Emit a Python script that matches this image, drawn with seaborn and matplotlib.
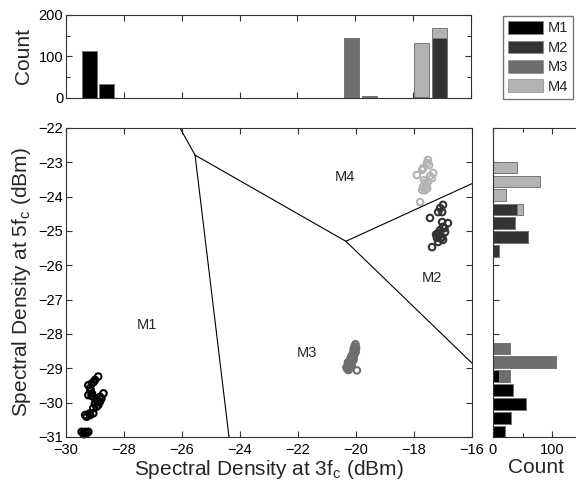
import matplotlib
matplotlib.use("Agg")
import matplotlib.pyplot as plt
import seaborn as sns
import pandas as pd
from matplotlib.patches import Patch
from matplotlib.ticker import MultipleLocator

# ==============================
# Data
# ==============================
classes = ["M1", "M2", "M3", "M4"]
colors = ["#000000", "#333333", "#6e6e6e", "#b3b3b3"]

m1_x = [-28.89, -29.00, -29.11, -29.23, -29.17, -29.11, -29.23, -29.06, -28.71, -28.83,
        -28.94, -28.83, -29.00, -28.89, -29.06, -29.17, -29.34, -29.29, -29.06, -29.46,
        -29.34, -29.40, -29.29, -29.23, -28.78, -28.95, -29.05, -29.15, -28.92, -29.20,
        -29.38, -29.12]
m1_y = [-29.24, -29.34, -29.44, -29.49, -29.58, -29.73, -29.78, -29.83, -29.73, -29.83,
        -29.92, -29.97, -30.02, -30.07, -30.16, -30.36, -30.36, -30.41, -30.31, -30.85,
        -30.85, -30.89, -30.89, -30.85, -29.88, -30.12, -29.40, -29.65, -29.95, -30.32,
        -30.92, -29.80]

m2_x = [-17.00, -17.10, -17.17, -17.03, -17.45, -17.03, -16.83, -17.00, -17.10, -16.93,
        -17.17, -17.03, -17.21, -17.00, -17.17, -17.38, -17.12, -17.08, -17.24, -16.95]
m2_y = [-24.24, -24.33, -24.45, -24.45, -24.62, -24.74, -24.77, -24.88, -24.97, -25.03,
        -25.06, -25.18, -25.20, -25.26, -25.32, -25.47, -25.12, -25.22, -25.10, -24.92]

m3_x = [-20.02, -20.05, -20.00, -20.08, -20.04, -20.10, -20.06, -20.12, -20.08, -20.15,
        -20.11, -20.18, -20.14, -20.20, -20.16, -20.24, -20.20, -20.27, -20.23, -20.30,
        -20.26, -19.97, -20.03, -20.07, -20.13, -20.09, -20.19, -20.15, -20.25, -20.21,
        -20.33, -20.01, -20.17, -20.28]
m3_y = [-28.30, -28.36, -28.40, -28.44, -28.50, -28.55, -28.60, -28.64, -28.68, -28.70,
        -28.74, -28.78, -28.82, -28.85, -28.88, -28.90, -28.94, -28.96, -29.00, -29.02,
        -29.05, -29.06, -28.46, -28.58, -28.62, -28.76, -28.72, -28.92, -28.86, -28.98,
        -28.97, -28.52, -28.66, -28.83]

m4_x = [-17.52, -17.55, -17.69, -17.72, -17.90, -17.34, -17.38, -17.52, -17.62, -17.69,
        -17.72, -17.62, -17.79, -17.45, -17.58, -17.48, -17.66, -17.55]
m4_y = [-22.93, -23.02, -23.17, -23.22, -23.37, -23.31, -23.46, -23.57, -23.60, -23.72,
        -23.81, -23.81, -24.16, -23.40, -23.68, -23.08, -23.52, -23.76]

# decision boundaries (segment end points)
bound_x = [[-26.07, -25.55], [-25.55, -24.38], [-25.55, -20.35], [-20.35, -16.0], [-20.35, -16.0]]
bound_y = [[-22.00, -22.79], [-22.79, -31.00], [-22.79, -25.30], [-25.30, -23.62], [-25.30, -28.85]]

region_names = ["M1", "M2", "M3", "M4"]
region_x = [-27.2, -17.38, -21.7, -20.38]
region_y = [-27.74, -26.37, -28.56, -23.43]

# histogram along x (top panel), 21 bins
top_centers = [-29.20, -28.59, -27.99, -27.38, -26.78, -26.17, -25.57, -24.96, -24.36, -23.75,
               -23.15, -22.54, -21.93, -21.33, -20.72, -20.12, -19.51, -18.91, -18.30, -17.70,
               -17.09]
top_m1 = [114, 33, 0, 0, 0, 0, 0, 0, 0, 0, 0, 0, 0, 0, 0, 0, 0, 0, 0, 0, 0]
top_m2 = [0, 0, 0, 0, 0, 0, 0, 0, 0, 0, 0, 0, 0, 0, 0, 0, 0, 0, 0, 2, 145]
top_m3 = [0, 0, 0, 0, 0, 0, 0, 0, 0, 0, 0, 0, 0, 0, 0, 145, 4, 0, 0, 0, 0]
top_m4 = [0, 0, 0, 0, 0, 0, 0, 0, 0, 0, 0, 0, 0, 0, 0, 0, 0, 0, 0, 131, 23]

# histogram along y (right panel), 20 bins
right_centers = [-23.15, -23.56, -23.96, -24.37, -24.77, -25.18, -25.58, -25.99, -26.39, -26.80,
                 -27.20, -27.61, -28.01, -28.42, -28.82, -29.23, -29.63, -30.04, -30.44, -30.85]
right_m1 = [0, 0, 0, 0, 0, 0, 0, 0, 0, 0, 0, 0, 0, 0, 0, 11, 34, 56, 30, 20]
right_m2 = [0, 0, 0, 40, 38, 60, 10, 0, 0, 0, 0, 0, 0, 0, 0, 0, 0, 0, 0, 0]
right_m3 = [0, 0, 0, 0, 0, 0, 0, 0, 0, 0, 0, 0, 0, 29, 106, 18, 0, 0, 0, 0]
right_m4 = [41, 80, 23, 10, 0, 0, 0, 0, 0, 0, 0, 0, 0, 0, 0, 0, 0, 0, 0, 0]

# ==============================
# Style
# ==============================
sns.set_style("ticks")
plt.rcParams["font.family"] = ["Liberation Sans", "DejaVu Sans"]
plt.rcParams["xtick.direction"] = "in"
plt.rcParams["ytick.direction"] = "in"
plt.rcParams["axes.edgecolor"] = "#333333"
plt.rcParams["axes.linewidth"] = 0.8
plt.rcParams["xtick.color"] = "#333333"
plt.rcParams["ytick.color"] = "#333333"
plt.rcParams["xtick.labelcolor"] = "black"
plt.rcParams["ytick.labelcolor"] = "black"

fig = plt.figure(figsize=(5.76, 4.87), dpi=100)
ax = fig.add_axes([0.1146, 0.1027, 0.7049, 0.6345])
ax_top = fig.add_axes([0.1146, 0.7994, 0.7031, 0.1698])
ax_right = fig.add_axes([0.8554, 0.1027, 0.1500, 0.6345])

# ==============================
# Scatter
# ==============================
xs = [m1_x, m2_x, m3_x, m4_x]
ys = [m1_y, m2_y, m3_y, m4_y]
for name, c, x, y in zip(classes, colors, xs, ys):
    df = pd.DataFrame({"x": x, "y": y})
    sns.scatterplot(data=df, x="x", y="y", ax=ax, marker="o", s=22,
                    facecolors="none", edgecolor=c, linewidth=1.5, clip_on=False)

for bx, by in zip(bound_x, bound_y):
    ax.plot(bx, by, color="black", linewidth=0.8)

for name, rx, ry in zip(region_names, region_x, region_y):
    ax.text(rx, ry, name, fontsize=10.5, ha="center", va="center")

ax.set_xlim(-30, -16)
ax.set_ylim(-31, -22)
ax.xaxis.set_major_locator(MultipleLocator(2))
ax.yaxis.set_major_locator(MultipleLocator(1))
ax.tick_params(labelsize=10.5, top=True, right=True, length=4, width=0.8, pad=2)
ax.tick_params(axis="x", pad=4)
ax.set_xlabel("Spectral Density at 3f$_\\mathregular{c}$ (dBm)", fontsize=15, labelpad=1)
ax.set_ylabel("Spectral Density at 5f$_\\mathregular{c}$ (dBm)", fontsize=15, labelpad=4)

# ==============================
# Top histogram (stacked)
# ==============================
w_top = 0.52
bottom = [0] * len(top_centers)
for c, counts in zip(colors, [top_m1, top_m2, top_m3, top_m4]):
    ax_top.bar(top_centers, counts, width=w_top, bottom=bottom, color=c,
               edgecolor="#777777", linewidth=0.7)
    bottom = [b + v for b, v in zip(bottom, counts)]
ax_top.set_xlim(-30, -16)
ax_top.set_ylim(0, 200)
ax_top.xaxis.set_major_locator(MultipleLocator(2))
ax_top.yaxis.set_major_locator(MultipleLocator(100))
ax_top.yaxis.set_minor_locator(MultipleLocator(50))
ax_top.tick_params(which="both", top=True, right=True, bottom=True, left=True,
                   labelbottom=False, length=4, width=0.8, labelsize=10.5, pad=2)
ax_top.tick_params(which="minor", length=3)
ax_top.set_ylabel("Count", fontsize=15, labelpad=4)

# ==============================
# Right histogram (stacked)
# ==============================
w_right = 0.34
left = [0] * len(right_centers)
for c, counts in zip(colors, [right_m1, right_m2, right_m3, right_m4]):
    ax_right.barh(right_centers, counts, height=w_right, left=left, color=c,
                  edgecolor="#777777", linewidth=0.7)
    left = [l + v for l, v in zip(left, counts)]
ax_right.set_ylim(-31, -22)
ax_right.set_xlim(0, 145)
ax_right.yaxis.set_major_locator(MultipleLocator(1))
ax_right.xaxis.set_major_locator(MultipleLocator(100))
ax_right.xaxis.set_minor_locator(MultipleLocator(50))
ax_right.tick_params(which="both", top=True, bottom=True, left=True, right=False,
                     labelleft=False, length=4, width=0.8, labelsize=10.5, pad=4)
ax_right.tick_params(which="minor", length=3)
ax_right.set_xlabel("Count", fontsize=15, labelpad=1)

# ==============================
# Legend
# ==============================
handles = [Patch(facecolor=c, edgecolor="#888888", linewidth=0.5, label=n)
           for n, c in zip(classes, colors)]
fig.legend(handles=handles, loc="upper left", bbox_to_anchor=(0.873, 0.967),
           fontsize=10.5, frameon=True, fancybox=False, edgecolor="#555555",
           handlelength=2.4, handleheight=0.95, handletextpad=0.3,
           labelspacing=0.35, borderpad=0.35, borderaxespad=0.0)

fig.savefig("out.png", dpi=100)
